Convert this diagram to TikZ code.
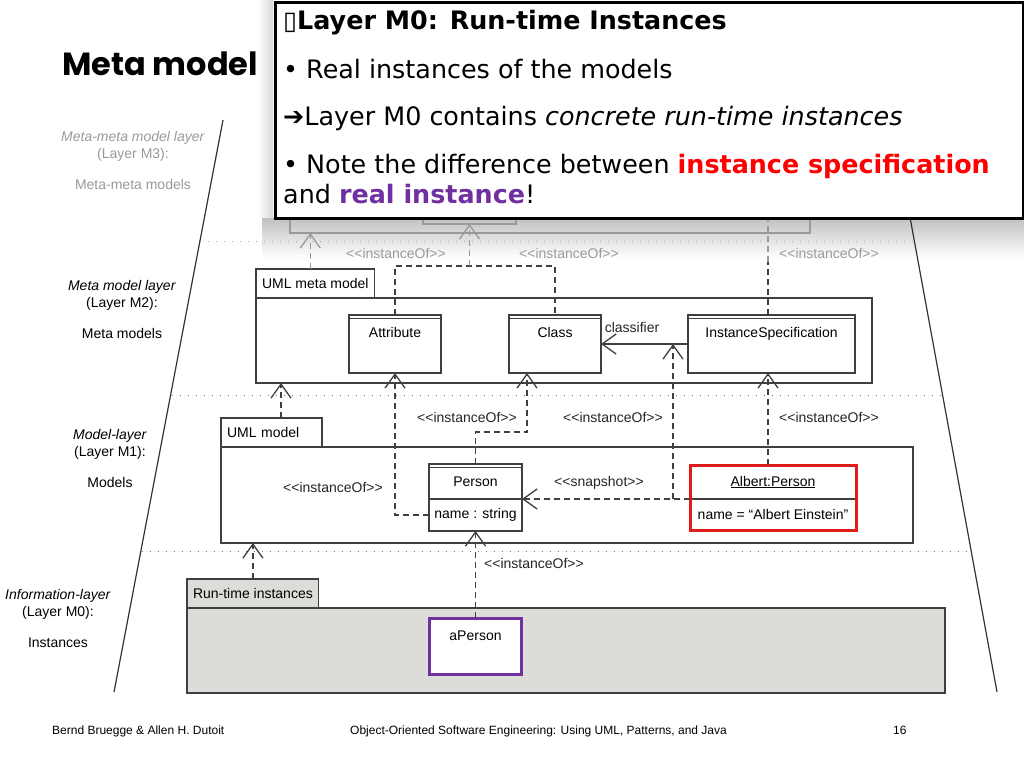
\documentclass[tikz,border=0pt]{standalone}
\usepackage{fontspec}
\setmainfont{Liberation Sans}
\newfontfamily\popfont{DejaVu Sans}
\newfontfamily\titlefont{Poppins}
\usepackage{xcolor}
\usepackage{tikz}
\usetikzlibrary{positioning,arrows.meta}

\definecolor{umlline}{HTML}{404040}
\definecolor{fadegray}{HTML}{9A9A9A}
\definecolor{specred}{HTML}{E01B1B}
\definecolor{textred}{HTML}{FF0000}
\definecolor{realpurple}{HTML}{7030A0}
\definecolor{rtfill}{HTML}{DCDCD8}
\newcommand\stereo[1]{<\kern0pt<#1>\kern0pt>}

\begin{document}
\begin{tikzpicture}[x=1pt,y=-1pt,
font=\fontsize{14}{17}\selectfont,
pkg/.style={draw=umlline,line width=1.3pt,rectangle,anchor=north west,inner sep=0pt,outer sep=0pt},
tab/.style={draw=umlline,line width=1.3pt,rectangle,anchor=south west,minimum height=29pt,inner xsep=6pt,inner ysep=0pt,outer sep=0pt,align=left},
cls/.style={draw=umlline,line width=1.3pt,rectangle,inner sep=0pt,outer sep=0pt},
umlcls/.style={cls,path picture={\draw[umlline,line width=1pt]
    ([yshift=-3pt]path picture bounding box.north west) -- ([yshift=-3pt]path picture bounding box.north east);}},
clsname/.style={anchor=north,yshift=-9pt},
dep/.style={draw=umlline,line width=1.3pt,dash pattern=on 6pt off 4pt,-{Straight Barb[length=14pt,width=20pt]}},
depline/.style={draw=umlline,line width=1.3pt,dash pattern=on 6pt off 4pt},
stereotxt/.style={text=black!85,inner sep=0pt},
layersep/.style={draw=black!55,line width=1pt,dash pattern=on 1pt off 7pt},
layertxt/.style={align=center,anchor=north,inner sep=0pt},
popline/.style={anchor=base west,inner sep=0pt,font=\popfont\fontsize{25.4}{30}\selectfont}]

\useasboundingbox (0,0) rectangle (1024,768);
\fill[white] (0,0) rectangle (1024,768);

% shadow of the popup
\shade[top color=black!25,bottom color=white] (262,217) rectangle (1024,258);
\shade[left color=white,right color=black!15] (258,0) rectangle (273,217);

% layer borders
\draw[layersep,draw=black!35] (200,241) -- (914,241);
\draw[layersep] (172,395) -- (942,395);
\draw[layersep] (142,551) -- (970,551);
\draw[black!80,line width=1.2pt] (223,120) -- (114,692);
\draw[black!80,line width=1.2pt] (905,190) -- (997,692);

% layer names
\node[layertxt,text=fadegray] (m3txt) at (133,131) {\textit{Meta-meta model layer}\\(Layer M3):\\[14pt]Meta-meta models};
\node[layertxt] (m2txt) at (122,280) {\textit{Meta model layer}\\(Layer M2):\\[14pt]Meta models};
\node[layertxt] (m1txt) at (110,429) {\textit{Model-layer}\\(Layer M1):\\[14pt]Models};
\node[layertxt] (m0txt) at (58,589) {\textit{Information-layer}\\(Layer M0):\\[14pt]Instances};

% M3 (faded)
\node[pkg,draw=fadegray,minimum width=520pt,minimum height=100pt] (m3pkg) at (290,133) {};
\node[cls,draw=fadegray,minimum width=93pt,minimum height=60pt,anchor=south] (m3cls) at (469.5,224) {};

% M2
\node[pkg,minimum width=616pt,minimum height=85pt] (metapkg) at (256,298) {};
\node[tab] (metatab) at (metapkg.north west) {UML meta model};
\node[umlcls,minimum width=92pt,minimum height=58pt,label={[clsname]north:Attribute}] (attr) at (395,344) {};
\node[umlcls,minimum width=92pt,minimum height=58pt,label={[clsname]north:Class}] (class) at (555,344) {};
\node[umlcls,minimum width=167pt,minimum height=58pt,label={[clsname]north:InstanceSpecification}] (instspec) at (771.5,344) {};
\draw[umlline,line width=1.3pt,-{Straight Barb[length=14pt,width=20pt]}] (instspec.west) -- (class.east);
\node[stereotxt] (clsfr) at (632,327) {classifier};

% M1
\node[pkg,minimum width=692pt,minimum height=96pt] (modelpkg) at (221,447) {};
\node[tab,text width=89pt] (modeltab) at (modelpkg.north west) {UML model};
\node[umlcls,minimum width=93pt,minimum height=35pt] (personhead) at (475.5,481.5) {Person};
\node[cls,minimum width=93pt,minimum height=32pt,below=0pt of personhead] (personattr) {name : string};
\node[cls,minimum width=166pt,minimum height=34pt] (alberthead) at (773,482) {\underline{Albert:Person}};
\node[cls,minimum width=166pt,minimum height=31pt,below=0pt of alberthead] (albertattr) {name = “Albert Einstein”};
\draw[specred,line width=3pt] (alberthead.north west) rectangle (albertattr.south east);

% M0
\node[pkg,fill=rtfill,minimum width=758pt,minimum height=85pt] (runpkg) at (187,608) {};
\node[tab,fill=rtfill] (runtab) at (runpkg.north west) {Run-time instances};
\node[cls,draw=realpurple,line width=3pt,fill=white,minimum width=92pt,minimum height=56pt,
    label={[clsname]north:aPerson}] (aperson) at (475.5,646) {};

% instanceOf links
\coordinate (metaup) at ([xshift=-5pt]metatab.north);
\coordinate (modelup) at ([xshift=9.5pt]modeltab.north);
\coordinate (specup) at ([xshift=-3.5pt]instspec.north);
\coordinate (specjoin) at ([xshift=-5pt]alberthead.north);
\coordinate (clsjoin) at ([xshift=-28pt]class.south);
\coordinate (snapjoin) at ([xshift=-17pt]albertattr.north west);

\draw[dep,draw=fadegray] (metaup) -- (metaup |- m3pkg.south);
\draw[depline] (attr.north) -- ++(0,-49) coordinate (metajoin) -| (class.north);
\draw[dep,draw=fadegray] (metajoin -| m3cls.south) -- (m3cls.south);
\draw[depline] (specup) -- ++(0,-53);
\draw[depline,draw=fadegray] (specup) ++(0,-53) -- ++(0,-120);
\draw[dep] (modelup) -- (modelup |- metapkg.south);
\draw[dep] (personattr.west) -| (attr.south);
\draw[dep] (personhead.north) -- ++(0,-32) -| (clsjoin);
\draw[dep] (albertattr.north west) -- (personattr.north east);
\draw[dep] (snapjoin) -- (snapjoin |- instspec.west);
\draw[dep] (specjoin) -- (specjoin |- instspec.south);
\draw[dep] (runtab.north) -- (runtab.north |- modelpkg.south);
\draw[dep] (aperson.north) -- (personattr.south);

\node[stereotxt,text=fadegray] (io1) at (396,253) {\stereo{instanceOf}};
\node[stereotxt,text=fadegray] (io2) at (569,253) {\stereo{instanceOf}};
\node[stereotxt,text=fadegray] (io3) at (829,253) {\stereo{instanceOf}};
\node[stereotxt] (io4) at (467,417) {\stereo{instanceOf}};
\node[stereotxt] (io5) at (613,417) {\stereo{instanceOf}};
\node[stereotxt] (io6) at (829,417) {\stereo{instanceOf}};
\node[stereotxt] (io7) at (333,487) {\stereo{instanceOf}};
\node[stereotxt] (snap) at (599,483) {\stereo{snapshot}};
\node[stereotxt] (io8) at (534,563) {\stereo{instanceOf}};

% popup
\node[draw=black,line width=3pt,fill=white,anchor=north west,minimum width=748pt,minimum height=215pt,inner sep=0pt] (popup) at (273.5,1.5) {};
\node[popline] (popa) at (283,30) {\bfseries ▯Layer M0: Run-time Instances};
\node[popline] (popb) at (283,78) {• Real instances of the models};
\node[popline] (popc) at (283,125) {\textbf{➔}Layer M0 contains \textit{concrete run-time instances}};
\node[popline] (popd) at (283,173) {• Note the difference between \textcolor{textred}{\bfseries instance specification}};
\node[popline] (pope) at (283,203) {and \textcolor{realpurple}{\bfseries real instance}!};

% title and footer
\node[anchor=base west,inner sep=0pt,font=\titlefont\bfseries\fontsize{32}{36}\selectfont] (title) at (62,75) {Meta model};
\node[anchor=base west,inner sep=0pt,font=\fontsize{12}{14}\selectfont] (authors) at (52,734) {Bernd Bruegge \& Allen H. Dutoit};
\node[anchor=base west,inner sep=0pt,font=\fontsize{12}{14}\selectfont] (book) at (350,734) {Object-Oriented Software Engineering: Using UML, Patterns, and Java};
\node[anchor=base west,inner sep=0pt,font=\fontsize{12}{14}\selectfont] (pageno) at (893,734) {16};
\end{tikzpicture}
\end{document}
